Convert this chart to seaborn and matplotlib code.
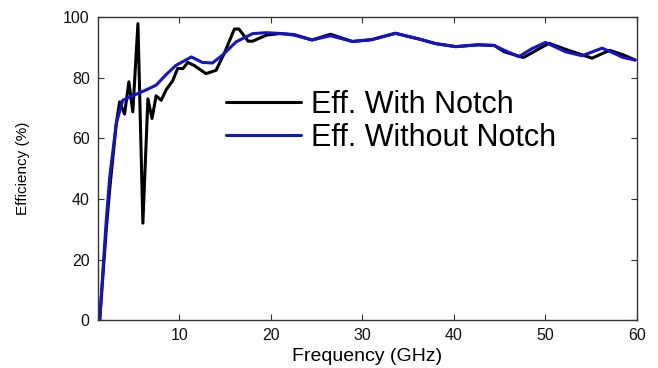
import matplotlib
matplotlib.use("Agg")
import matplotlib.pyplot as plt
import pandas as pd
import seaborn as sns

# Efficiency with the notch (black curve)
freq_notch = [1.28, 2.0, 2.4, 3.1, 3.46, 4.0, 4.47, 4.9, 5.46, 6.0, 6.55, 7.0, 7.45,
              8.0, 8.55, 9.27, 9.8, 10.4, 10.9, 11.6, 12.9, 14.0, 14.9, 16.0, 16.5,
              17.5, 18.0, 19.5, 20.9, 22.5, 24.5, 26.5, 28.9, 31.0, 33.6, 36.2, 38.0,
              40.2, 42.6, 44.4, 45.5, 47.6, 49.0, 50.4, 52.5, 55.1, 57.0, 58.5, 59.8]
eff_notch = [0, 30, 44, 65, 72, 68, 78.6, 68.7, 97.8, 32, 73, 66.5, 74,
             72.5, 76, 79, 83, 83, 85, 84, 81.3, 82.4, 88, 96, 96,
             92, 92, 94, 94.5, 94.2, 92.4, 94.3, 91.9, 92.5, 94.6, 92.7, 91.2,
             90.2, 90.8, 90.6, 88.5, 86.6, 89.0, 91.3, 89.0, 86.4, 89.0, 87.5, 85.8]

# Efficiency without the notch (blue curve)
freq_plain = [1.28, 2.0, 2.37, 3.1, 3.8, 4.9, 6.4, 7.45, 8.55, 9.6, 11.3, 12.5, 13.6,
              14.7, 16.2, 18.0, 19.5, 21.3, 22.5, 24.5, 26.5, 28.9, 31.0, 33.6, 36.2,
              38.0, 40.2, 42.6, 44.4, 45.5, 47.1, 48.5, 50.0, 52.2, 54.0, 56.2, 57.5,
              58.5, 59.8]
eff_plain = [0, 33, 47, 65, 72.5, 74, 76, 77.5, 81, 84, 86.8, 85, 84.8,
             87.4, 91.8, 94.5, 94.8, 94.5, 94.0, 92.4, 93.8, 91.9, 92.5, 94.6, 92.7,
             91.2, 90.2, 90.8, 90.6, 89.0, 86.9, 89.5, 91.6, 88.5, 87.2, 89.7, 88.0,
             86.6, 85.8]

df = pd.concat([
    pd.DataFrame({"Frequency": freq_notch, "Efficiency": eff_notch, "Case": "Eff. With Notch"}),
    pd.DataFrame({"Frequency": freq_plain, "Efficiency": eff_plain, "Case": "Eff. Without Notch"}),
])

sns.set_style("ticks")
plt.rcParams["font.family"] = ["Liberation Sans", "DejaVu Sans"]
plt.rcParams["text.color"] = "black"
plt.rcParams["axes.labelcolor"] = "black"

fig = plt.figure(figsize=(6.58, 3.68), dpi=100)
ax = fig.add_axes([0.149, 0.130, 0.819, 0.824])

sns.lineplot(data=df, x="Frequency", y="Efficiency", hue="Case", estimator=None,
             palette={"Eff. With Notch": "black", "Eff. Without Notch": "#1414c8"},
             linewidth=2.2, ax=ax)

ax.set_xlim(1.1, 60)
ax.set_ylim(0, 100)
ax.set_xticks([10, 20, 30, 40, 50, 60])
ax.set_yticks([0, 20, 40, 60, 80, 100])
ax.tick_params(direction="in", top=True, right=True, labelsize=11.5, length=4,
               colors="#333333", labelcolor="#111111", pad=6)
for s in ax.spines.values():
    s.set_color("#333333")
    s.set_linewidth(1.0)

ax.set_xlabel("Frequency (GHz)", fontsize=14, labelpad=3)
ax.set_ylabel("Efficiency (%)", fontsize=11, labelpad=24)

ax.legend(frameon=False, fontsize=22, handlelength=2.45, handletextpad=0.33,
          labelspacing=0.1, loc="upper left", bbox_to_anchor=(0.215, 0.80),
          borderaxespad=0)

fig.savefig("out.png", dpi=100)
